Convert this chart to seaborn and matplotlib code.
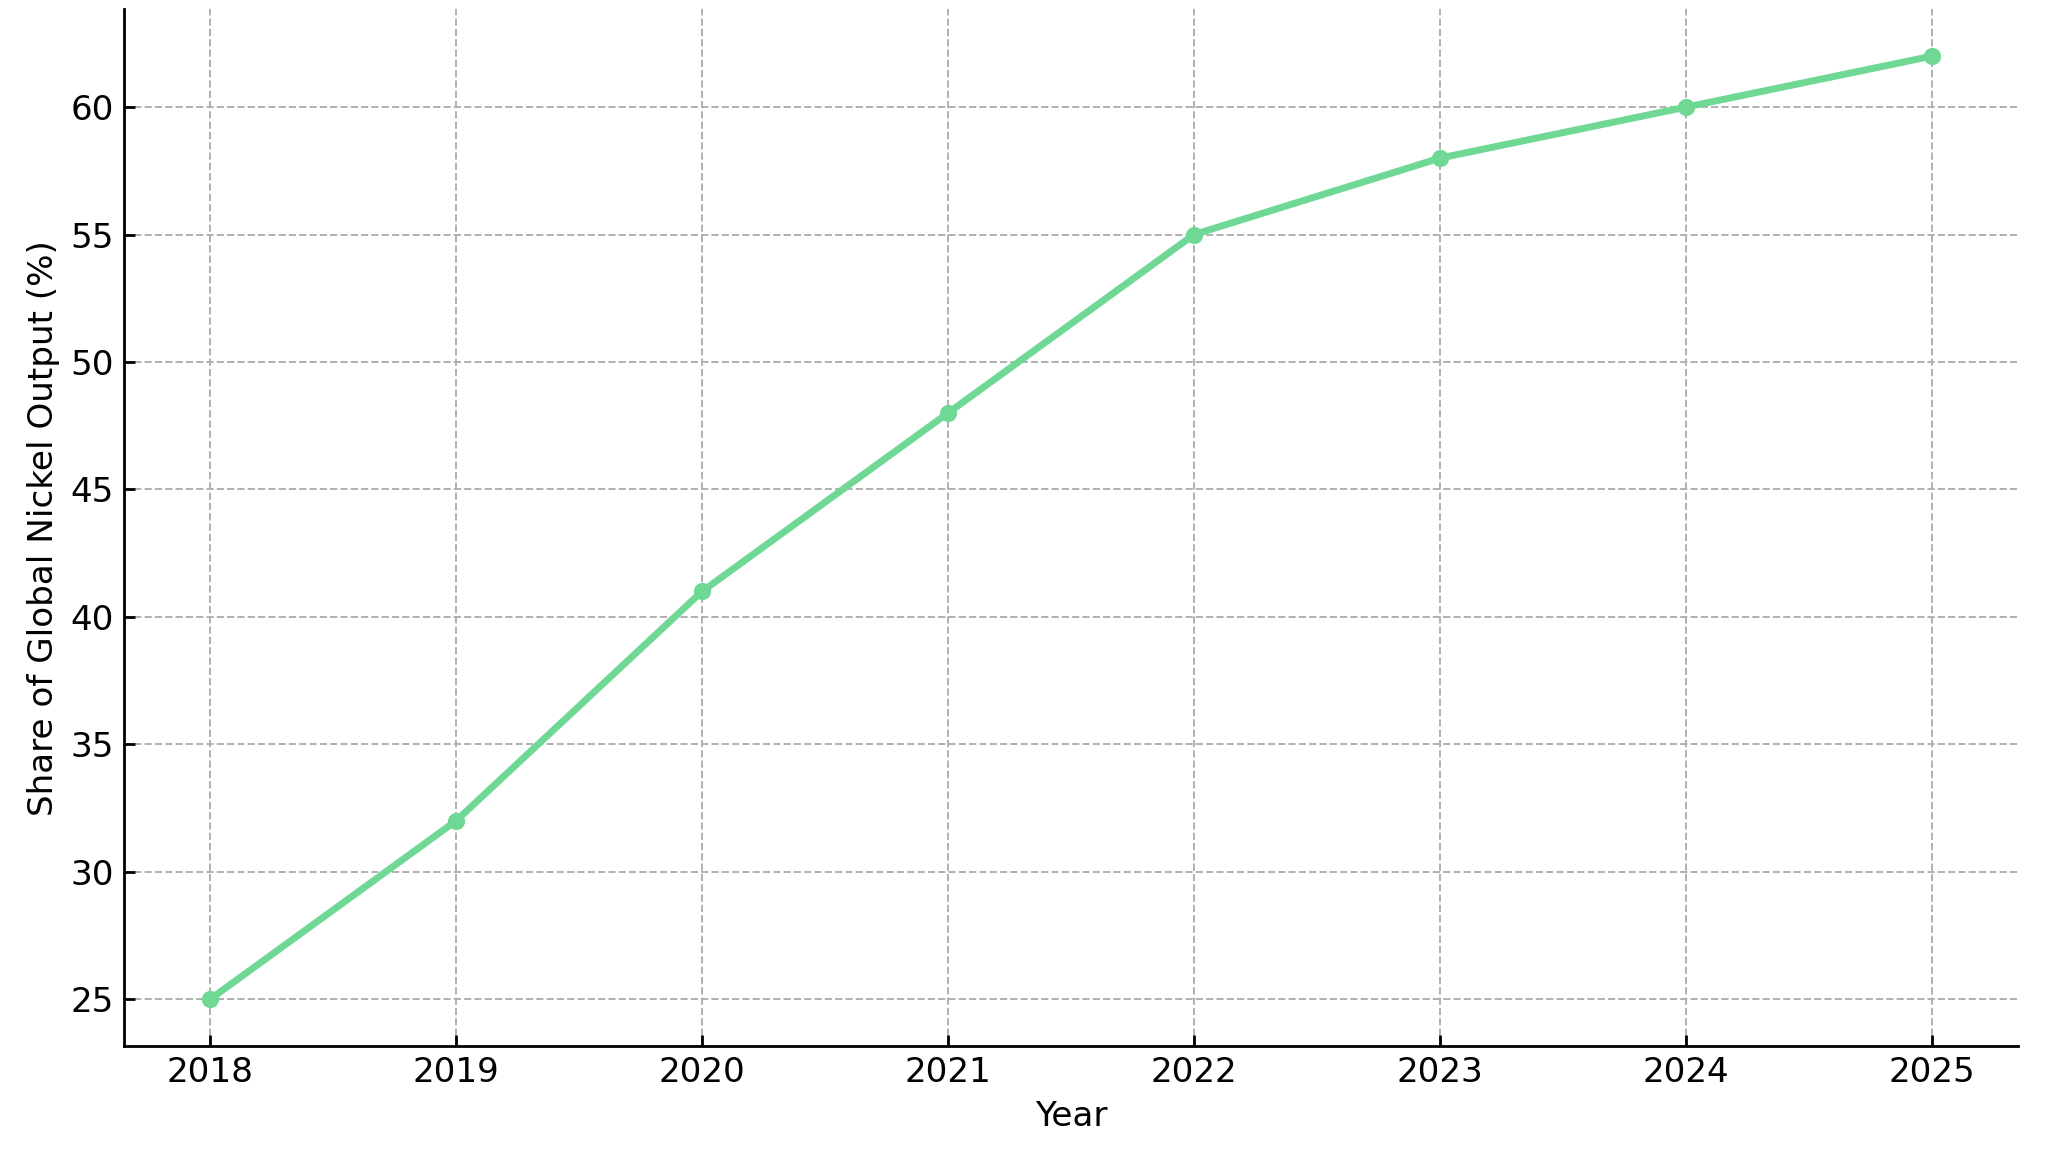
import matplotlib
matplotlib.use("Agg")
import matplotlib.pyplot as plt
import seaborn as sns
import pandas as pd

years = [2018, 2019, 2020, 2021, 2022, 2023, 2024, 2025]
share = [25, 32, 41, 48, 55, 58, 60, 62]
x_label = "Year"
y_label = "Share of Global Nickel Output (%)"
line_color = "#6fd895"

sns.set_style("ticks")
plt.rcParams['font.family'] = ['DejaVu Sans']
plt.rcParams['text.color'] = 'black'
plt.rcParams['axes.labelcolor'] = 'black'
plt.rcParams['xtick.color'] = 'black'
plt.rcParams['ytick.color'] = 'black'

df = pd.DataFrame({"Year": years, "Share": share})

fig, ax = plt.subplots(figsize=(10.24, 5.83), dpi=200)
sns.lineplot(data=df, x="Year", y="Share", ax=ax, color=line_color,
             linewidth=2.5, marker="o", markersize=6.2, markeredgewidth=0)

ax.set_xticks(years)
ax.set_xticklabels([str(y) for y in years])
ax.set_yticks([25, 30, 35, 40, 45, 50, 55, 60])
ax.tick_params(axis="both", direction="in", labelsize=12.3, length=4, width=1,
               colors="black")
ax.set_xlabel(x_label, fontsize=12.3, color="black")
ax.set_ylabel(y_label, fontsize=12.3, color="black")
ax.grid(True, linestyle="--", color="#b0b0b0", linewidth=0.7)
ax.set_axisbelow(True)
for s in ["top", "right"]:
    ax.spines[s].set_visible(False)
for s in ["left", "bottom"]:
    ax.spines[s].set_linewidth(1.0)
    ax.spines[s].set_color("black")

fig.subplots_adjust(left=0.0605, right=0.9854, top=0.9923, bottom=0.1025)
fig.savefig("out.png", dpi=200)
